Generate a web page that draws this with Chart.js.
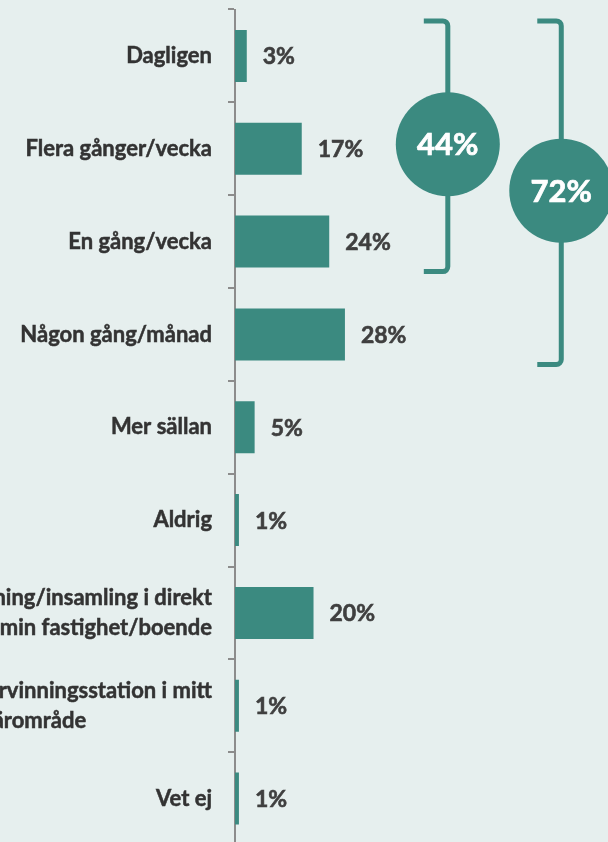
<!DOCTYPE html>
<html><head><meta charset="utf-8">
<script src="https://cdn.jsdelivr.net/npm/chart.js@4.4.0/dist/chart.umd.min.js"></script>
<style>
html,body{margin:0;padding:0;overflow:hidden;background:#e6efee;}
#wrap{width:608px;height:850px;position:relative;}
</style></head><body>
<div id="wrap"><canvas id="c"></canvas></div>
<script>
const categories = ['Dagligen','Flera gånger/vecka','En gång/vecka','Någon gång/månad','Mer sällan','Aldrig',['Hämtning/insamling i direkt','anslutning till min fastighet/boende'],['Återvinningsstation i mitt','närområde'],'Vet ej'];
const values = [3,17,24,28,5,1,20,1,1];
const valueLabels = ['3%','17%','24%','28%','5%','1%','20%','1%','1%'];
const groupLabels = ['44%','72%'];
const groupFirst = [0,0];
const groupLast = [2,3];

const TEAL = '#3b8a80';

const categoryLabelPlugin = {
  id: 'catLabels',
  afterDraw(chart, args, opts) {
    const ctx = chart.ctx;
    const ys = chart.scales.y;
    const right = chart.chartArea.left - opts.gap;
    ctx.save();
    ctx.font = opts.font;
    ctx.fillStyle = opts.color;
    ctx.strokeStyle = opts.color;
    ctx.lineWidth = opts.stroke;
    ctx.textBaseline = 'middle';
    categories.forEach((lab, i) => {
      const lines = Array.isArray(lab) ? lab : [lab];
      const cy = ys.getPixelForTick(i);
      const widest = Math.max(...lines.map(l => ctx.measureText(l).width));
      const leftAlign = opts.leftAligned.includes(i);
      lines.forEach((line, k) => {
        const y = cy + (k - (lines.length - 1) / 2) * opts.lineHeight;
        if (leftAlign && k > 0) {
          const x0 = right - widest + opts.indent;
          ctx.textAlign = 'left'; ctx.fillText(line, x0, y); ctx.strokeText(line, x0, y);
        } else {
          ctx.textAlign = 'right'; ctx.fillText(line, right, y); ctx.strokeText(line, right, y);
        }
      });
    });
    ctx.restore();
  }
};

const valueLabelPlugin = {
  id: 'valueLabels',
  afterDatasetsDraw(chart) {
    const ctx = chart.ctx;
    const meta = chart.getDatasetMeta(0);
    ctx.save();
    ctx.font = 'bold 23px Lato';
    ctx.fillStyle = '#3f3f3f';
    ctx.strokeStyle = '#3f3f3f';
    ctx.lineWidth = 0.6;
    ctx.textAlign = 'left';
    ctx.textBaseline = 'middle';
    meta.data.forEach((bar, i) => {
      ctx.fillText(valueLabels[i], bar.x + 16, bar.y + 1);
      ctx.strokeText(valueLabels[i], bar.x + 16, bar.y + 1);
    });
    ctx.restore();
  }
};

const bracketPlugin = {
  id: 'brackets',
  afterDraw(chart, args, opts) {
    const ctx = chart.ctx;
    const xs = chart.scales.x;
    const meta = chart.getDatasetMeta(0);
    ctx.save();
    groupLabels.forEach((lab, g) => {
      const b0 = meta.data[groupFirst[g]], b1 = meta.data[groupLast[g]];
      const top = b0.y - b0.height / 2 - opts.topGap;
      const bottom = b1.y + b1.height / 2 + opts.bottomGap;
      const x = xs.getPixelForValue(opts.xPos[g]);
      const hook = opts.hook, r = opts.corner;
      ctx.strokeStyle = TEAL;
      ctx.lineWidth = opts.lineWidth;
      ctx.beginPath();
      ctx.moveTo(x - hook, top);
      ctx.arcTo(x, top, x, top + r, r);
      ctx.lineTo(x, bottom - r);
      ctx.arcTo(x, bottom, x - r, bottom, r);
      ctx.lineTo(x - hook, bottom);
      ctx.stroke();
      const cy = (top + bottom) / 2 - 2;
      ctx.fillStyle = TEAL;
      ctx.beginPath();
      ctx.arc(x, cy, opts.radius, 0, Math.PI * 2);
      ctx.fill();
      ctx.fillStyle = '#ffffff';
      ctx.strokeStyle = '#ffffff';
      ctx.lineWidth = 0.7;
      ctx.font = 'bold 31px Lato';
      ctx.textAlign = 'center';
      ctx.textBaseline = 'middle';
      ctx.fillText(lab, x, cy + 1);
      ctx.strokeText(lab, x, cy + 1);
    });
    ctx.restore();
  }
};

new Chart(document.getElementById('c'), {
  type: 'bar',
  data: {
    labels: categories,
    datasets: [{
      data: values,
      backgroundColor: TEAL,
      borderWidth: 0,
      categoryPercentage: 1,
      barPercentage: 0.56
    }]
  },
  options: {
    indexAxis: 'y',
    responsive: true,
    maintainAspectRatio: false,
    devicePixelRatio: 1,
    animation: false,
    layout: { padding: { top: 9.5, bottom: 5, left: 0, right: 0 } },
    plugins: {
      legend: { display: false },
      tooltip: { enabled: false },
      catLabels: { gap: 23, font: 'bold 22px Lato', color: '#333333', stroke: 0.5, lineHeight: 29.7, leftAligned: [7], indent: 16 },
      brackets: { xPos: [54.2, 83.1], topGap: 9, bottomGap: 4, hook: 24, corner: 5, lineWidth: 5, radius: 52 }
    },
    scales: {
      x: { display: false, min: 0, max: 95 },
      y: {
        afterFit(scale) { scale.width = 235; scale.paddingTop = 0; scale.paddingBottom = 0; },
        border: { display: true, color: '#8c8c8c', width: 2 },
        grid: { display: true, drawOnChartArea: false, drawTicks: true, tickLength: 7, color: '#8c8c8c', lineWidth: 2, offset: true },
        ticks: { display: false, autoSkip: false }
      }
    }
  },
  plugins: [categoryLabelPlugin, valueLabelPlugin, bracketPlugin]
});
</script>
</body></html>
